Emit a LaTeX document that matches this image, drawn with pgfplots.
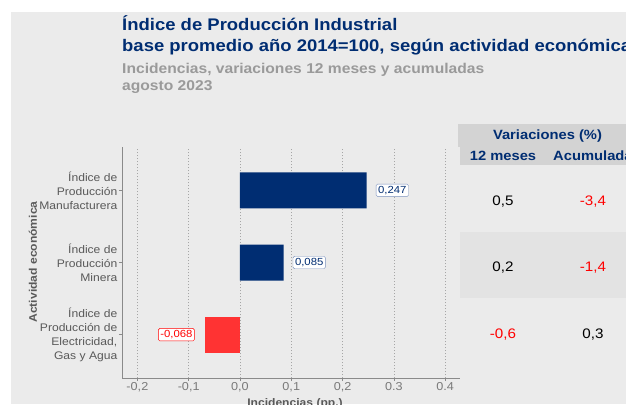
\documentclass[border=0pt]{standalone}
\usepackage{fontspec}
\setmainfont[FakeStretch=1.1]{Liberation Sans}
\usepackage{pgfplots}
\pgfplotsset{compat=1.18}
\definecolor{navy}{HTML}{002D72}
\definecolor{panel}{HTML}{EBEBEB}
\definecolor{hdr}{HTML}{D3D3D3}
\definecolor{rowtwo}{HTML}{E3E3E3}
\definecolor{ttl}{HTML}{9A9A9A}
\definecolor{lbl}{HTML}{595959}
\definecolor{ticklbl}{HTML}{7A7A7A}
\definecolor{barred}{HTML}{FF3333}
\definecolor{boxnavy}{HTML}{7A90BC}
\definecolor{axgray}{HTML}{8A8A8A}
\definecolor{gridgray}{HTML}{A6A6A6}
\newcommand{\fs}[2]{\fontsize{#1}{#2}\selectfont}
\begin{document}
\begin{tikzpicture}
\useasboundingbox (0pt,0pt) rectangle (626pt,-404pt);
\fill[panel] (11pt,-12pt) rectangle (626pt,-404pt);
\fill[hdr] (458pt,-124pt) rectangle (626pt,-165pt);
\fill[rowtwo] (458pt,-232pt) rectangle (626pt,-298pt);
% titles
\node[anchor=base west, inner sep=0pt, text=navy, font=\fs{16.8}{20}\bfseries] at (122pt,-30.7pt) {Índice de Producción Industrial};
\node[anchor=base west, inner sep=0pt, text=navy, font=\fs{16.8}{20}\bfseries] at (122pt,-51.7pt) {base promedio año 2014=100, según actividad económica};
\node[anchor=base west, inner sep=0pt, text=ttl, font=\fs{14.2}{17}\bfseries] at (122pt,-73.3pt) {Incidencias, variaciones 12 meses y acumuladas};
\node[anchor=base west, inner sep=0pt, text=ttl, font=\fs{14.2}{17}\bfseries] at (122pt,-90pt) {agosto 2023};
% table
\node[anchor=base, inner sep=0pt, text=navy, font=\fs{13.4}{16}\bfseries] at (547.5pt,-139pt) {Variaciones (\%)};
\node[anchor=base, inner sep=0pt, text=navy, font=\fs{13.4}{16}\bfseries] at (503pt,-160pt) {12 meses};
\node[anchor=base west, inner sep=0pt, text=navy, font=\fs{13.4}{16}\bfseries] at (553pt,-160pt) {Acumulada};
\node[anchor=base, inner sep=0pt, text=black, font=\fs{13.8}{16}] at (503pt,-205pt) {0,5};
\node[anchor=base, inner sep=0pt, text=red, font=\fs{13.8}{16}] at (593pt,-205pt) {-3,4};
\node[anchor=base, inner sep=0pt, text=black, font=\fs{13.8}{16}] at (503pt,-271pt) {0,2};
\node[anchor=base, inner sep=0pt, text=red, font=\fs{13.8}{16}] at (593pt,-271pt) {-1,4};
\node[anchor=base, inner sep=0pt, text=red, font=\fs{13.8}{16}] at (503pt,-338pt) {-0,6};
\node[anchor=base, inner sep=0pt, text=black, font=\fs{13.8}{16}] at (593pt,-338pt) {0,3};
% axis labels
\node[rotate=90, inner sep=0pt, text=lbl, font=\fs{11}{13}\bfseries] at (33pt,-262pt) {Actividad económica};
\node[anchor=base, inner sep=0pt, text=lbl, font=\fs{11}{13}\bfseries] at (295pt,-406pt) {Incidencias (pp.)};
\begin{axis}[
  at={(122pt,-378pt)}, anchor=south west,
  scale only axis, width=338pt, height=231pt,
  xmin=-0.230, xmax=0.429, ymin=0.4, ymax=3.6,
  axis x line*=bottom, axis y line*=left,
  axis line style={draw=axgray, line width=0.6pt},
  xtick={-0.2,-0.1,0,0.1,0.2,0.3,0.4},
  xticklabels={{-0,2},{-0,1},{0,0},{0,1},{0,2},{0.3},{0.4}},
  ytick={1,2,3},
  yticklabels={{Índice de\\Producción de\\Electricidad,\\Gas y Agua},{Índice de\\Producción\\Minera},{Índice de\\Producción\\Manufacturera}},
  tick align=outside, major tick length=3pt,
  tick style={draw=axgray, line width=0.6pt},
  xticklabel style={text=ticklbl, font=\fs{11.5}{13}, inner sep=1pt},
  yticklabel style={text=lbl, font=\fs{11}{14}, align=right, inner sep=1.5pt},
  xmajorgrids, ymajorgrids=false,
  major grid style={draw=gridgray, line width=0.5pt, dash pattern=on 1.5pt off 1.5pt},
  axis background/.style={fill=panel},
  clip=false,
]
\addplot[xbar, fill=navy, draw=none, bar width=36pt, bar shift=0pt] coordinates {(0.247,3) (0.085,2)};
\addplot[xbar, fill=barred, draw=none, bar width=36pt, bar shift=0pt] coordinates {(-0.068,1)};
\node[draw=boxnavy, fill=white, rounded corners=1.5pt, inner sep=2pt, text=navy, font=\fs{10.3}{12}] at (axis cs:0.297,3) {0,247};
\node[draw=boxnavy, fill=white, rounded corners=1.5pt, inner sep=2pt, text=navy, font=\fs{10.3}{12}] at (axis cs:0.135,2) {0,085};
\node[draw=red, fill=white, rounded corners=1.5pt, inner sep=2pt, text=red, font=\fs{10.3}{12}] at (axis cs:-0.124,1) {-0,068};
\end{axis}
\end{tikzpicture}
\end{document}
